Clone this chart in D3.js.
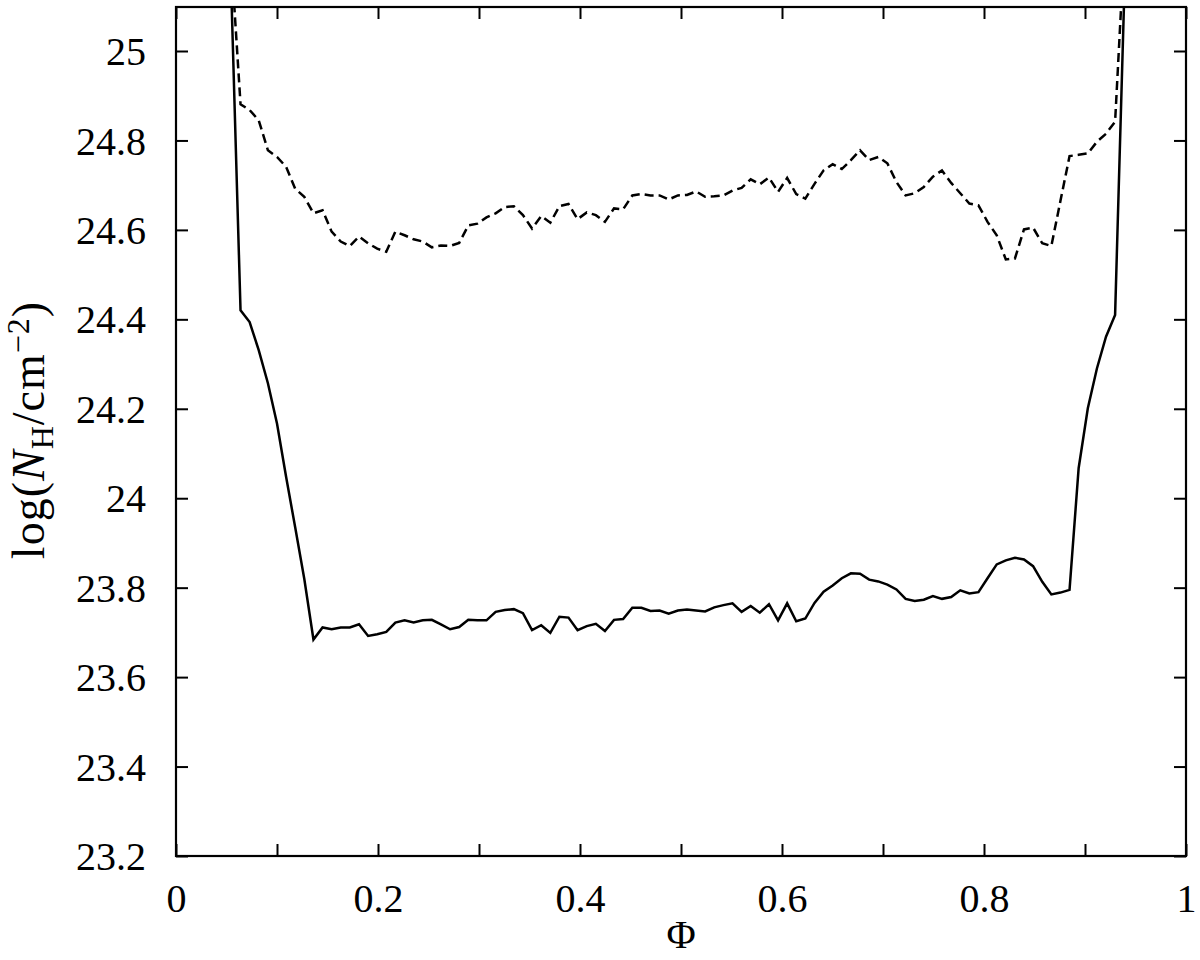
<!DOCTYPE html>
<html>
<head>
<meta charset="utf-8">
<script src="https://cdn.jsdelivr.net/npm/d3@7"></script>
<style>
  html, body { margin: 0; padding: 0; background: #fff; }
  svg { display: block; }
  text { font-family: "Liberation Serif", "Times New Roman", serif; fill: #000; }
</style>
</head>
<body>
<svg id="chart" width="1200" height="960"></svg>
<script>
// Phase grid (Φ)
const phi = [
  0.0549, 0.0639, 0.0729, 0.0819, 0.0910, 0.1000, 0.1090, 0.1180, 0.1270, 0.1361,
  0.1451, 0.1541, 0.1631, 0.1721, 0.1812, 0.1902, 0.1992, 0.2082, 0.2172, 0.2263,
  0.2353, 0.2443, 0.2533, 0.2623, 0.2714, 0.2804, 0.2894, 0.2984, 0.3074, 0.3165,
  0.3255, 0.3345, 0.3435, 0.3525, 0.3616, 0.3706, 0.3796, 0.3886, 0.3976, 0.4067,
  0.4157, 0.4247, 0.4337, 0.4427, 0.4518, 0.4608, 0.4698, 0.4788, 0.4878, 0.4969,
  0.5059, 0.5149, 0.5239, 0.5329, 0.5420, 0.5510, 0.5600, 0.5690, 0.5780, 0.5871,
  0.5961, 0.6051, 0.6141, 0.6231, 0.6322, 0.6412, 0.6502, 0.6592, 0.6682, 0.6773,
  0.6863, 0.6953, 0.7043, 0.7133, 0.7224, 0.7314, 0.7404, 0.7494, 0.7584, 0.7675,
  0.7765, 0.7855, 0.7945, 0.8035, 0.8126, 0.8216, 0.8306, 0.8396, 0.8486, 0.8577,
  0.8667, 0.8757, 0.8847, 0.8937, 0.9028, 0.9118, 0.9208, 0.9298, 0.9388
];

// Solid curve: log N_H
const solidNH = [
  25.12, 24.420, 24.394, 24.331, 24.257, 24.167, 24.048, 23.935, 23.820, 23.684,
  23.711, 23.707, 23.711, 23.711, 23.718, 23.692, 23.696, 23.701, 23.722, 23.727,
  23.722, 23.727, 23.728, 23.718, 23.707, 23.712, 23.728, 23.727, 23.727, 23.746,
  23.750, 23.752, 23.743, 23.705, 23.716, 23.699, 23.735, 23.733, 23.705, 23.714,
  23.719, 23.703, 23.728, 23.730, 23.755, 23.755, 23.748, 23.749, 23.742, 23.749,
  23.751, 23.749, 23.747, 23.756, 23.761, 23.765, 23.746, 23.759, 23.744, 23.763,
  23.727, 23.765, 23.725, 23.731, 23.766, 23.791, 23.805, 23.821, 23.832, 23.831,
  23.818, 23.814, 23.807, 23.796, 23.775, 23.770, 23.773, 23.781, 23.775, 23.779,
  23.794, 23.787, 23.790, 23.821, 23.852, 23.861, 23.867, 23.863, 23.848, 23.813,
  23.785, 23.789, 23.795, 24.067, 24.201, 24.290, 24.361, 24.410, 25.12
];

// Dashed curve: log N_H
const dashedNH = [
  25.20, 24.881, 24.868, 24.845, 24.778, 24.763, 24.741, 24.692, 24.674, 24.637,
  24.644, 24.596, 24.574, 24.564, 24.585, 24.570, 24.558, 24.551, 24.596, 24.588,
  24.579, 24.574, 24.561, 24.565, 24.564, 24.571, 24.610, 24.614, 24.628, 24.637,
  24.651, 24.653, 24.633, 24.603, 24.631, 24.616, 24.653, 24.658, 24.624, 24.639,
  24.633, 24.618, 24.648, 24.646, 24.677, 24.680, 24.677, 24.677, 24.668, 24.677,
  24.678, 24.686, 24.674, 24.675, 24.677, 24.688, 24.694, 24.713, 24.702, 24.717,
  24.685, 24.716, 24.680, 24.670, 24.703, 24.733, 24.747, 24.736, 24.756, 24.778,
  24.756, 24.763, 24.749, 24.707, 24.677, 24.682, 24.696, 24.719, 24.733, 24.705,
  24.682, 24.659, 24.655, 24.618, 24.588, 24.534, 24.536, 24.601, 24.605, 24.570,
  24.564, 24.665, 24.765, 24.768, 24.771, 24.797, 24.815, 24.842, 25.23
];

const xTickValues = [0, 0.1, 0.2, 0.3, 0.4, 0.5, 0.6, 0.7, 0.8, 0.9, 1];
const xTickLabels = ["0", "", "0.2", "", "0.4", "", "0.6", "", "0.8", "", "1"];
const yTickValues = [23.2, 23.4, 23.6, 23.8, 24, 24.2, 24.4, 24.6, 24.8, 25];
const yTickLabels = ["23.2", "23.4", "23.6", "23.8", "24", "24.2", "24.4", "24.6", "24.8", "25"];

const svg = d3.select("#chart");
const L = 176, R = 1186, T = 7, B = 856;

const x = d3.scaleLinear().domain([0, 1]).range([L, R]);
const y = d3.scaleLinear().domain([23.2, 25]).range([B, 51]);

svg.append("defs").append("clipPath").attr("id", "plotclip")
  .append("rect").attr("x", L).attr("y", T).attr("width", R - L).attr("height", B - T);

const tickLen = 12;
const fontSize = 40;

// Axes (ticks inward, labels outside)
const xAxisB = d3.axisBottom(x).tickValues(xTickValues).tickSize(-tickLen).tickPadding(28)
  .tickFormat((d, i) => xTickLabels[i]);
const gB = svg.append("g").attr("transform", `translate(0,${B})`).call(xAxisB);

const xAxisT = d3.axisTop(x).tickValues(xTickValues).tickSize(-tickLen).tickFormat("");
const gT = svg.append("g").attr("transform", `translate(0,${T})`).call(xAxisT);

const yAxisL = d3.axisLeft(y).tickValues(yTickValues).tickSize(-tickLen).tickPadding(30)
  .tickFormat((d, i) => yTickLabels[i]);
const gL = svg.append("g").attr("transform", `translate(${L},0)`).call(yAxisL);

const yAxisR = d3.axisRight(y).tickValues(yTickValues).tickSize(-tickLen).tickFormat("");
const gR = svg.append("g").attr("transform", `translate(${R},0)`).call(yAxisR);

[gB, gT, gL, gR].forEach(g => {
  g.select(".domain").remove();
  g.selectAll(".tick line").attr("stroke", "#000").attr("stroke-width", 2);
  g.selectAll(".tick text")
    .style("font-family", '"Liberation Serif", "Times New Roman", serif')
    .style("font-size", fontSize + "px")
    .attr("fill", "#000");
});
gB.selectAll(".tick text").attr("dy", "0.71em");
gL.selectAll(".tick text").attr("dy", "0.34em");

// Data lines
const solidData = phi.map((p, i) => [p, solidNH[i]]);
const dashedData = phi.map((p, i) => [p, dashedNH[i]]);
const line = d3.line().x(d => x(d[0])).y(d => y(d[1]));

const plot = svg.append("g").attr("clip-path", "url(#plotclip)");
plot.append("path").datum(dashedData)
  .attr("d", line).attr("fill", "none").attr("stroke", "#000")
  .attr("stroke-width", 2.5).attr("stroke-dasharray", "9,5").attr("stroke-linejoin", "miter");
plot.append("path").datum(solidData)
  .attr("d", line).attr("fill", "none").attr("stroke", "#000")
  .attr("stroke-width", 2.5).attr("stroke-linejoin", "miter");

// Frame
svg.append("rect").attr("x", L).attr("y", T).attr("width", R - L).attr("height", B - T)
  .attr("fill", "none").attr("stroke", "#000").attr("stroke-width", 2.2);

// Axis titles
svg.append("text")
  .attr("x", x(0.5)).attr("y", 948)
  .attr("text-anchor", "middle")
  .style("font-size", fontSize + "px")
  .text("Φ");

const yt = svg.append("text")
  .attr("transform", `translate(44,430) rotate(-90)`)
  .attr("text-anchor", "middle")
  .style("font-size", "46px")
  .style("letter-spacing", "1px");
yt.append("tspan").text("log(");
yt.append("tspan").style("font-style", "italic").text("N");
yt.append("tspan").attr("dy", 9).style("font-size", "32px").text("H");
yt.append("tspan").attr("dy", -9).text("/cm");
yt.append("tspan").attr("dy", -15).style("font-size", "32px").text("−2");
yt.append("tspan").attr("dy", 15).text(")");
</script>
</body>
</html>
